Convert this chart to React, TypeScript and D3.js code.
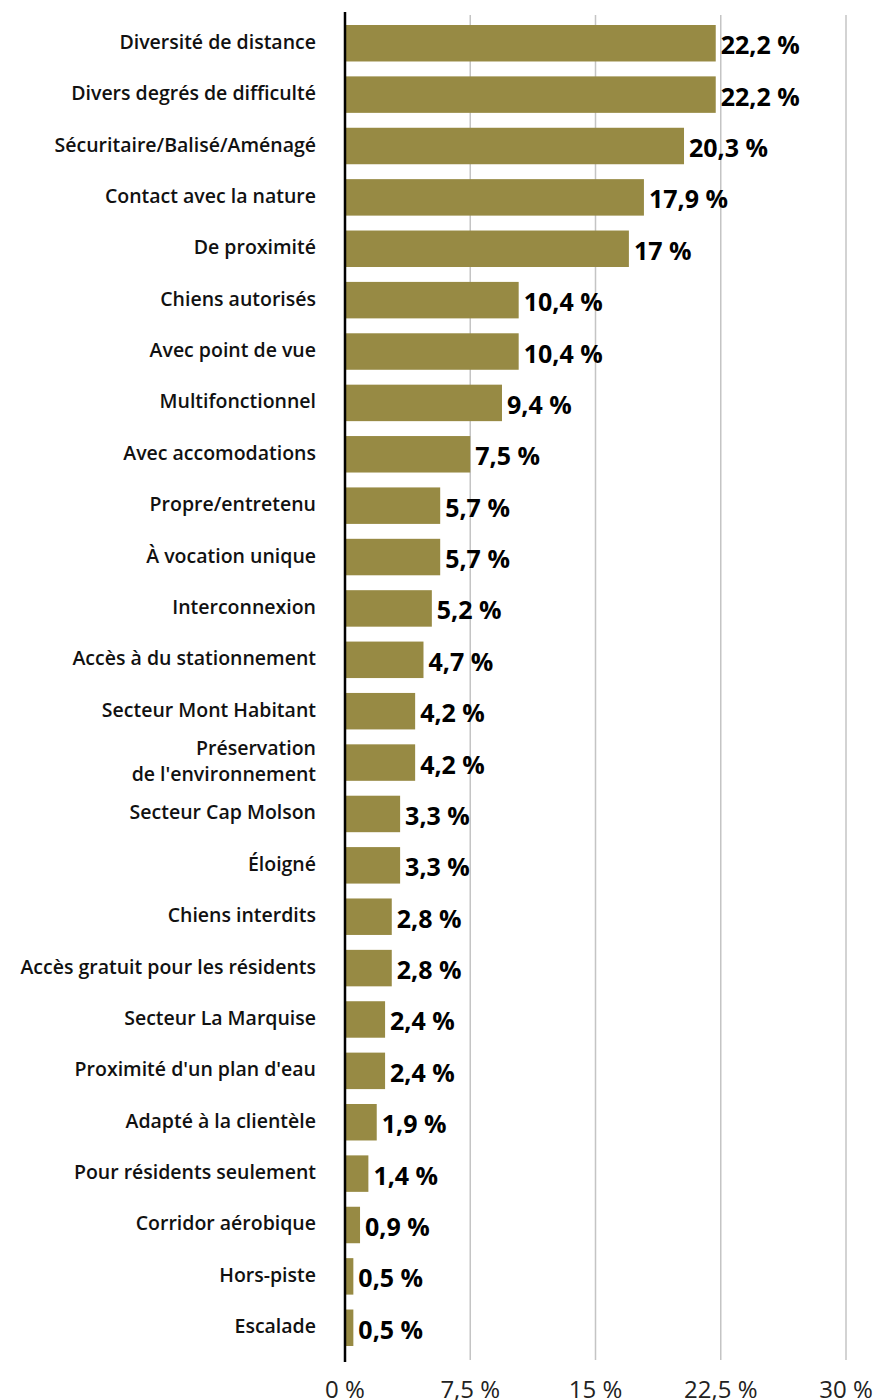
import React from "react";
import * as d3 from "d3";

const categories: string[][] = [
  ["Diversité de distance"],
  ["Divers degrés de difficulté"],
  ["Sécuritaire/Balisé/Aménagé"],
  ["Contact avec la nature"],
  ["De proximité"],
  ["Chiens autorisés"],
  ["Avec point de vue"],
  ["Multifonctionnel"],
  ["Avec accomodations"],
  ["Propre/entretenu"],
  ["À vocation unique"],
  ["Interconnexion"],
  ["Accès à du stationnement"],
  ["Secteur Mont Habitant"],
  ["Préservation", "de l'environnement"],
  ["Secteur Cap Molson"],
  ["Éloigné"],
  ["Chiens interdits"],
  ["Accès gratuit pour les résidents"],
  ["Secteur La Marquise"],
  ["Proximité d'un plan d'eau"],
  ["Adapté à la clientèle"],
  ["Pour résidents seulement"],
  ["Corridor aérobique"],
  ["Hors-piste"],
  ["Escalade"],
];

const values: number[] = [
  22.2, 22.2, 20.3, 17.9, 17, 10.4, 10.4, 9.4, 7.5, 5.7, 5.7, 5.2, 4.7, 4.2, 4.2,
  3.3, 3.3, 2.8, 2.8, 2.4, 2.4, 1.9, 1.4, 0.9, 0.5, 0.5,
];

const ticks: number[] = [0, 7.5, 15, 22.5, 30];

const fmt = (v: number) => String(v).replace(".", ",") + " %";

export default function App() {
  const W = 875;
  const H = 1400;
  const x = d3.scaleLinear().domain([0, 30]).range([345, 846]);
  const keys = categories.map((_, i) => String(i));
  const y = d3.scaleBand<string>().domain(keys).range([25, 1346]).paddingInner(0.29).paddingOuter(0);
  const font = "'Open Sans', 'Noto Sans', sans-serif";
  const barColor = "#978a44";

  return (
    <svg
      width={W}
      height={H}
      style={{ position: "absolute", left: 0, top: 0, background: "#fff" }}
      fontFamily={font}
    >
      {ticks.slice(1).map((t) => (
        <line key={"g" + t} x1={x(t)} x2={x(t)} y1={15} y2={1360} stroke="#c4c4c4" strokeWidth={1.5} />
      ))}
      {values.map((v, i) => {
        const yy = y(String(i))!;
        const bw = y.bandwidth();
        const cy = yy + bw / 2;
        const lines = categories[i];
        return (
          <g key={i}>
            <rect x={x(0)} y={yy} width={x(v) - x(0)} height={bw} fill={barColor} />
            <text
              x={x(v) + 5}
              y={cy + 1}
              dominantBaseline="central"
              fontSize={25}
              fontWeight={700}
              fill="#000"
            >
              {fmt(v)}
            </text>
            {lines.map((l, j) => (
              <text
                key={j}
                x={316}
                y={cy + (j - (lines.length - 1) / 2) * 26 - 2}
                textAnchor="end"
                dominantBaseline="central"
                fontSize={19.5}
                fontWeight={600}
                fill="#111"
              >
                {l}
              </text>
            ))}
          </g>
        );
      })}
      <line x1={345} x2={345} y1={12} y2={1362} stroke="#000" strokeWidth={2.5} />
      {ticks.map((t) => (
        <text
          key={"t" + t}
          x={x(t)}
          y={1388}
          textAnchor="middle"
          dominantBaseline="central"
          fontSize={24}
          fill="#222"
        >
          {fmt(t)}
        </text>
      ))}
    </svg>
  );
}
